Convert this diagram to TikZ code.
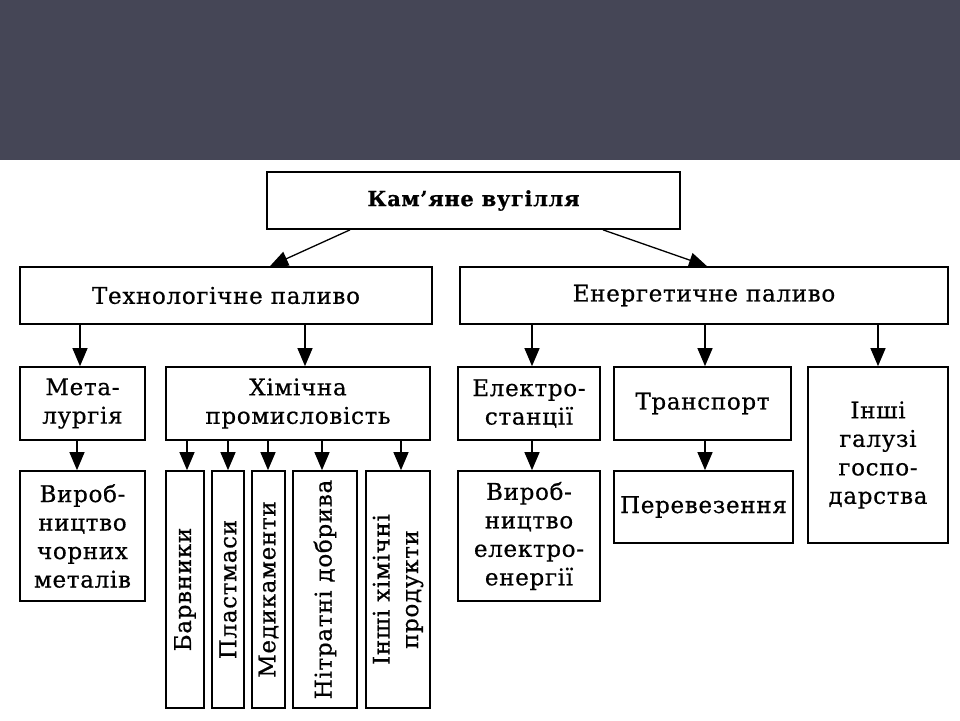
\documentclass[tikz,border=0pt]{standalone}
\usepackage{fontspec}
\setmainfont[LetterSpace=3,FakeBold=0.6]{DejaVu Serif}
\usetikzlibrary{arrows.meta}
\definecolor{bandgray}{RGB}{69,70,86}
\begin{document}
\begin{tikzpicture}[x=1pt,y=-1pt,
  box/.style={draw=black, line width=1.7pt, fill=white, inner sep=0pt, align=center,
    font=\fontsize{23}{28.5}\selectfont},
  vtext/.style={rotate=90, inner sep=0pt, align=center, font=\fontsize{23}{28.5}\selectfont},
  arr/.style={draw=black, line width=1.3pt, -{Triangle[length=18pt,width=15pt]}}]
\useasboundingbox (0,0) rectangle (960,720);
\fill[white] (0,0) rectangle (960,720);
\fill[bandgray] (0,0) rectangle (960,160);
% level 0
\node[box, minimum width=413pt, minimum height=57pt, font=\bfseries\fontsize{21}{26}\selectfont] (root) at (473.5,200.5) {Кам’яне вугілля};
% level 1
\node[box, minimum width=412pt, minimum height=57pt] (tech) at (226,295.5) {Технологічне паливо};
\node[box, minimum width=488pt, minimum height=57pt] (energy) at (704,295.5) {Енергетичне паливо};
% level 2
\node[box, minimum width=125pt, minimum height=73pt] (met) at (82.5,403.5) {Мета-\\лургія};
\node[box, minimum width=264pt, minimum height=73pt] (chem) at (298,403.5) {Хімічна\\промисловість};
\node[box, minimum width=142pt, minimum height=73pt] (elec) at (529,403.5) {Електро-\\станції};
\node[box, minimum width=177pt, minimum height=73pt] (trans) at (702.5,403.5) {Транспорт};
\node[box, minimum width=140pt, minimum height=176pt] (other) at (878,455) {Інші\\галузі\\госпо-\\дарства};
% level 3
\node[box, minimum width=125pt, minimum height=130pt] (vyrob) at (82.5,536) {Вироб-\\ництво\\чорних\\металів};
\node[box, minimum width=38pt, minimum height=237pt] (barv) at (185,589.5) {};
\node[box, minimum width=32pt, minimum height=237pt] (plast) at (228,589.5) {};
\node[box, minimum width=33pt, minimum height=237pt] (med) at (268.5,589.5) {};
\node[box, minimum width=64pt, minimum height=237pt] (nitr) at (325,589.5) {};
\node[box, minimum width=64pt, minimum height=237pt] (inshi) at (398,589.5) {};
\node[vtext] (barvt) at (barv.center) {Барвники};
\node[vtext] (plastt) at (plast.center) {Пластмаси};
\node[vtext] (medt) at (med.center) {Медикаменти};
\node[vtext] (nitrt) at (nitr.center) {Нітратні добрива};
\node[vtext] (inshit) at (inshi.center) {Інші хімічні\\продукти};
\node[box, minimum width=142pt, minimum height=130pt] (vyrobel) at (529,536) {Вироб-\\ництво\\електро-\\енергії};
\node[box, minimum width=179pt, minimum height=72pt] (perev) at (703.5,507) {Перевезення};
% column coordinates
\coordinate (c350) at (350,0);
\coordinate (c270) at (270,0);
\coordinate (c603) at (603,0);
\coordinate (c707) at (707,0);
\coordinate (c80) at (80,0);
\coordinate (c77) at (77,0);
\coordinate (c305) at (305,0);
\coordinate (c187) at (187,0);
\coordinate (c228) at (228,0);
\coordinate (c268) at (268,0);
\coordinate (c322) at (322,0);
\coordinate (c401) at (401,0);
\coordinate (c532) at (532,0);
\coordinate (c705) at (705,0);
\coordinate (c878) at (878,0);
% connectors
\draw[arr] (root.south -| c350) -- (tech.north -| c270);
\draw[arr] (root.south -| c603) -- (energy.north -| c707);
\draw[arr] (tech.south -| c80) -- (met.north -| c80);
\draw[arr] (tech.south -| c305) -- (chem.north -| c305);
\draw[arr] (energy.south -| c532) -- (elec.north -| c532);
\draw[arr] (energy.south -| c705) -- (trans.north -| c705);
\draw[arr] (energy.south -| c878) -- (other.north -| c878);
\draw[arr] (met.south -| c77) -- (vyrob.north -| c77);
\draw[arr] (chem.south -| c187) -- (barv.north -| c187);
\draw[arr] (chem.south -| c228) -- (plast.north -| c228);
\draw[arr] (chem.south -| c268) -- (med.north -| c268);
\draw[arr] (chem.south -| c322) -- (nitr.north -| c322);
\draw[arr] (chem.south -| c401) -- (inshi.north -| c401);
\draw[arr] (elec.south -| c532) -- (vyrobel.north -| c532);
\draw[arr] (trans.south -| c705) -- (perev.north -| c705);
\end{tikzpicture}
\end{document}
